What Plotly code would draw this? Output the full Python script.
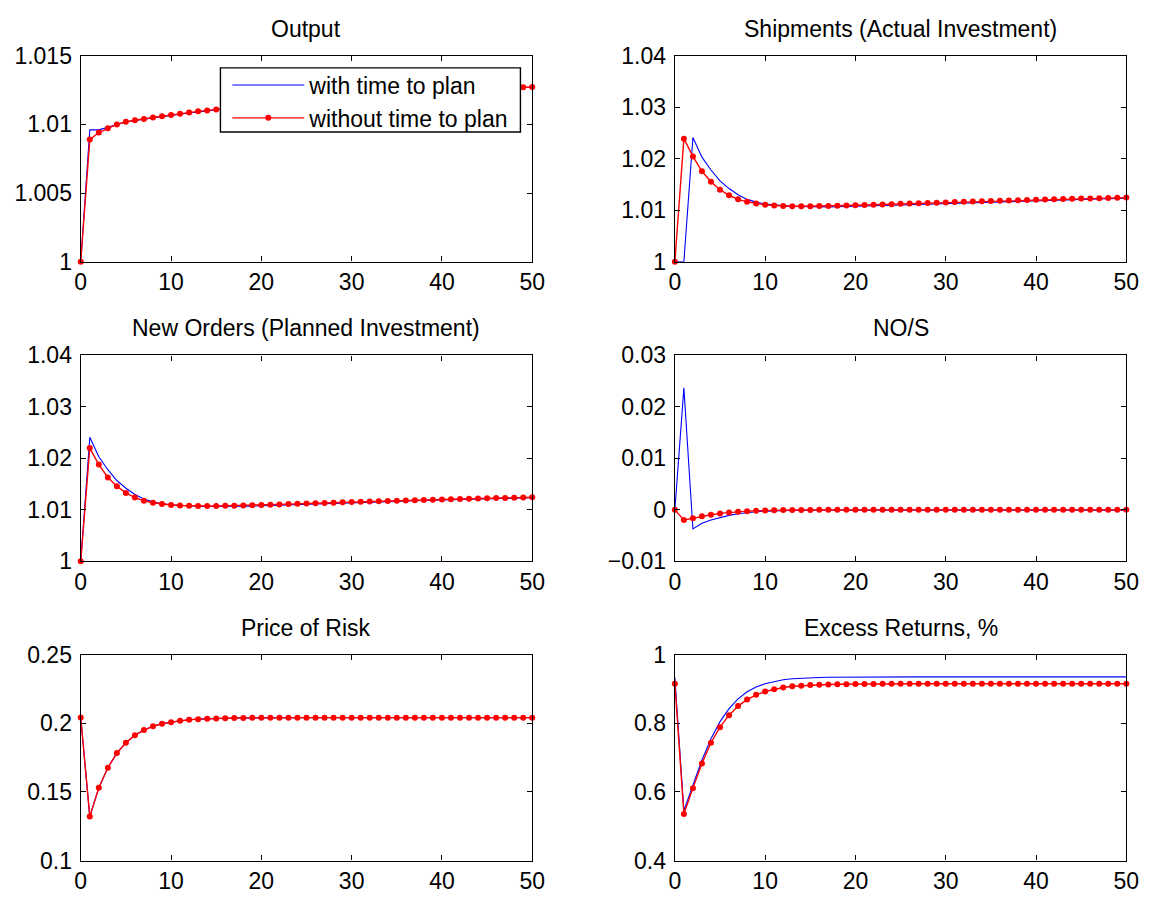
import plotly.graph_objects as go

# ---------------- data ----------------
periods = list(range(51))

x_tickvals = [0, 10, 20, 30, 40, 50]
x_ticktext = ["0", "10", "20", "30", "40", "50"]

titles = ["Output", "Shipments (Actual Investment)", "New Orders (Planned Investment)",
          "NO/S", "Price of Risk", "Excess Returns, %"]

series_names = ["with time to plan", "without time to plan"]

output_ttp = [1.0, 1.0096, 1.0096, 1.00978, 1.01000, 1.01017, 1.01029, 1.01039, 1.01048, 1.01057,
              1.01066, 1.01075, 1.01083, 1.01091, 1.01098, 1.01105, 1.01112, 1.01120, 1.01127, 1.01134,
              1.01141, 1.01148, 1.01154, 1.01160, 1.01167, 1.01173, 1.01178, 1.01184, 1.01190, 1.01195,
              1.01200, 1.01205, 1.01210, 1.01215, 1.01219, 1.01224, 1.01228, 1.01232, 1.01236, 1.01240,
              1.01243, 1.01247, 1.01250, 1.01253, 1.01256, 1.01259, 1.01261, 1.01264, 1.01266, 1.01268,
              1.01270]
output_nottp = [1.0, 1.00889, 1.00941, 1.00972, 1.01000, 1.01019, 1.01031, 1.01040, 1.01050, 1.01059,
                1.01069, 1.01078, 1.01087, 1.01095, 1.01102, 1.01109, 1.011165, 1.011238, 1.01131, 1.01138,
                1.011448, 1.011515, 1.01158, 1.011643, 1.011705, 1.011765, 1.011823, 1.01188, 1.011935, 1.011988,
                1.01204, 1.01209, 1.012138, 1.012185, 1.01223, 1.012273, 1.012315, 1.012355, 1.012393, 1.01243,
                1.012465, 1.012498, 1.01253, 1.01256, 1.012588, 1.012615, 1.01264, 1.012663, 1.012685, 1.012705,
                1.012725]

shipments_ttp = [1.0, 1.0, 1.0241, 1.0203, 1.0178, 1.0157, 1.0142, 1.0130, 1.0121, 1.01157,
                 1.0112, 1.0110, 1.01088, 1.01075, 1.0107, 1.01066, 1.01064, 1.01064, 1.01066, 1.01069,
                 1.01073, 1.01078, 1.01083, 1.01089, 1.01095, 1.01101, 1.01107, 1.01113, 1.01119, 1.01125,
                 1.01131, 1.01137, 1.01143, 1.01149, 1.01154, 1.01160, 1.01165, 1.01171, 1.01176, 1.01181,
                 1.01186, 1.01191, 1.01196, 1.01201, 1.01206, 1.01210, 1.01215, 1.01219, 1.01224, 1.01228,
                 1.01232]
shipments_nottp = [1.0, 1.0239, 1.02044, 1.01756, 1.01554, 1.01399, 1.0129, 1.01211, 1.01163, 1.0113,
                   1.01105, 1.01092, 1.01082, 1.01078, 1.01077, 1.01077, 1.01079, 1.01082, 1.01086, 1.01091,
                   1.01096, 1.01101, 1.01106, 1.01112, 1.01117, 1.01123, 1.01129, 1.01134, 1.0114, 1.01146,
                   1.01151, 1.01157, 1.01162, 1.01167, 1.01173, 1.01178, 1.01183, 1.01188, 1.01193, 1.01198,
                   1.01203, 1.01207, 1.01212, 1.01216, 1.01221, 1.01225, 1.01229, 1.01233, 1.01237, 1.01241,
                   1.01245]

orders_ttp = [1.0, 1.0241, 1.0203, 1.0178, 1.0157, 1.0142, 1.0130, 1.0121, 1.01157, 1.0112,
              1.0110, 1.01088, 1.01075, 1.0107, 1.01066, 1.01064, 1.01064, 1.01066, 1.01069, 1.01073,
              1.01078, 1.01083, 1.01089, 1.01095, 1.01101, 1.01107, 1.01113, 1.01119, 1.01125, 1.01131,
              1.01137, 1.01143, 1.01149, 1.01154, 1.01160, 1.01165, 1.01171, 1.01176, 1.01181, 1.01186,
              1.01191, 1.01196, 1.01201, 1.01206, 1.01210, 1.01215, 1.01219, 1.01224, 1.01228, 1.01232,
              1.01236]
orders_nottp = [1.0, 1.0220, 1.0188, 1.0163, 1.0146, 1.0133, 1.0124, 1.01176, 1.01138, 1.01113,
                1.01094, 1.01085, 1.01078, 1.01075, 1.01075, 1.01076, 1.01079, 1.01082, 1.01086, 1.01091,
                1.01096, 1.01101, 1.01106, 1.01112, 1.01117, 1.01123, 1.01129, 1.01134, 1.0114, 1.01146,
                1.01151, 1.01157, 1.01162, 1.01167, 1.01173, 1.01178, 1.01183, 1.01188, 1.01193, 1.01198,
                1.01203, 1.01207, 1.01212, 1.01216, 1.01221, 1.01225, 1.01229, 1.01233, 1.01237, 1.01241,
                1.01245]

nos_ttp = [0.0, 0.0237, -0.0037, -0.0026, -0.00195, -0.00145, -0.00107, -0.00075, -0.00052, -0.00037,
           -0.00026, -0.00018, -0.00013, -0.00009, -0.00007, -0.00006, -0.00005, -0.00005, -0.00005, -0.00005,
           -0.00005, -0.00005, -0.00005, -0.00005, -0.00005, -0.00005, -0.00005, -0.00005, -0.00005, -0.00005,
           -0.00005, -0.00005, -0.00005, -0.00005, -0.00005, -0.00005, -0.00005, -0.00005, -0.00005, -0.00005,
           -0.00005, -0.00005, -0.00005, -0.00005, -0.00005, -0.00005, -0.00005, -0.00005, -0.00005, -0.00005,
           -0.00005]
nos_nottp = [0.0, -0.00195, -0.00164, -0.00126, -0.00094, -0.00069, -0.0005, -0.00035, -0.00025, -0.00017,
             -0.00011, -0.00007, -0.00004, -0.00003, -0.00002, -0.00001, 0.0, 0.0, 0.0, 0.0,
             0.0, 0.0, 0.0, 0.0, 0.0, 0.0, 0.0, 0.0, 0.0, 0.0,
             0.0, 0.0, 0.0, 0.0, 0.0, 0.0, 0.0, 0.0, 0.0, 0.0,
             0.0, 0.0, 0.0, 0.0, 0.0, 0.0, 0.0, 0.0, 0.0, 0.0,
             0.0]

risk_ttp = [0.2042, 0.1320, 0.1530, 0.1676, 0.1783, 0.1858, 0.1913, 0.1950, 0.1978, 0.1996,
            0.2008, 0.2018, 0.2025, 0.2030, 0.2033, 0.2035, 0.2037, 0.2038, 0.2039, 0.2040,
            0.2040, 0.2041, 0.2041, 0.2041, 0.2041, 0.2041, 0.2041, 0.2041, 0.2041, 0.2041,
            0.2041, 0.2041, 0.2041, 0.2041, 0.2041, 0.2041, 0.2041, 0.2041, 0.2041, 0.2041,
            0.2041, 0.2041, 0.2041, 0.2041, 0.2041, 0.2041, 0.2041, 0.2041, 0.2041, 0.2041,
            0.2041]
risk_nottp = [0.2042, 0.1320, 0.1530, 0.1676, 0.1783, 0.1858, 0.1913, 0.1950, 0.1978, 0.1996,
              0.2008, 0.2018, 0.2025, 0.2030, 0.2033, 0.2035, 0.2037, 0.2038, 0.2039, 0.2040,
              0.2040, 0.2041, 0.2041, 0.2041, 0.2041, 0.2041, 0.2041, 0.2041, 0.2041, 0.2041,
              0.2041, 0.2041, 0.2041, 0.2041, 0.2041, 0.2041, 0.2041, 0.2041, 0.2041, 0.2041,
              0.2041, 0.2041, 0.2041, 0.2041, 0.2041, 0.2041, 0.2041, 0.2041, 0.2041, 0.2041,
              0.2041]

excess_ttp = [0.933, 0.546, 0.6195, 0.693, 0.7546, 0.8047, 0.8425, 0.871, 0.8917, 0.9059,
              0.9153, 0.922, 0.9267, 0.9295, 0.9314, 0.9326, 0.9334, 0.9339, 0.9342, 0.9344,
              0.9346, 0.9347, 0.9348, 0.9349, 0.9349, 0.935, 0.935, 0.935, 0.935, 0.935,
              0.935, 0.935, 0.935, 0.935, 0.935, 0.935, 0.935, 0.935, 0.935, 0.935,
              0.935, 0.935, 0.935, 0.935, 0.935, 0.935, 0.935, 0.935, 0.935, 0.935,
              0.935]
excess_nottp = [0.9153, 0.5354, 0.611, 0.6828, 0.7433, 0.7887, 0.8236, 0.850, 0.869, 0.883,
                0.8926, 0.899, 0.904, 0.9078, 0.9096, 0.9115, 0.9125, 0.9131, 0.9136, 0.9140,
                0.9143, 0.9145, 0.9147, 0.9148, 0.9149, 0.9150, 0.9151, 0.9151, 0.9151, 0.9152,
                0.9152, 0.9152, 0.9152, 0.9152, 0.9152, 0.9152, 0.9152, 0.9152, 0.9152, 0.9152,
                0.9152, 0.9152, 0.9152, 0.9152, 0.9152, 0.9152, 0.9152, 0.9152, 0.9152, 0.9152,
                0.9153]

y_ranges = [[1.0, 1.015], [1.0, 1.04], [1.0, 1.04], [-0.01, 0.03], [0.1, 0.25], [0.4, 1.0]]
y_tickvals = [[1.0, 1.005, 1.01, 1.015],
              [1.0, 1.01, 1.02, 1.03, 1.04],
              [1.0, 1.01, 1.02, 1.03, 1.04],
              [-0.01, 0.0, 0.01, 0.02, 0.03],
              [0.1, 0.15, 0.2, 0.25],
              [0.4, 0.6, 0.8, 1.0]]
y_ticktext = [["1", "1.005", "1.01", "1.015"],
              ["1", "1.01", "1.02", "1.03", "1.04"],
              ["1", "1.01", "1.02", "1.03", "1.04"],
              ["\u22120.01", "0", "0.01", "0.02", "0.03"],
              ["0.1", "0.15", "0.2", "0.25"],
              ["0.4", "0.6", "0.8", "1"]]

panels_ttp = [output_ttp, shipments_ttp, orders_ttp, nos_ttp, risk_ttp, excess_ttp]
panels_nottp = [output_nottp, shipments_nottp, orders_nottp, nos_nottp, risk_nottp, excess_nottp]

# ---------------- layout geometry (pixels) ----------------
W, H = 1159, 909
col_px = [(76, 535), (680, 1139)]
row_px = [(44, 256), (352.5, 564.5), (660.5, 872.5)]

FONT = "Liberation Sans, Arial, Helvetica, sans-serif"
FS = 23

fig = go.Figure()
layout = dict(width=W, height=H, margin=dict(l=0, r=0, t=0, b=0),
              paper_bgcolor="white", plot_bgcolor="white",
              font=dict(family=FONT, size=FS, color="black"))
annotations = []

for i in range(6):
    r, c = divmod(i, 2)
    x0, x1 = col_px[c]
    top, bot = row_px[r]
    xd = [x0 / W, x1 / W]
    yd = [(H - bot) / H, (H - top) / H]
    n = i + 1
    xa = "x" if n == 1 else f"x{n}"
    ya = "y" if n == 1 else f"y{n}"
    axis_common = dict(showline=True, linecolor="black", linewidth=1.4, mirror="ticks",
                       ticks="inside", ticklen=5, tickwidth=1, tickcolor="black",
                       showgrid=False, zeroline=False,
                       tickfont=dict(family=FONT, size=FS, color="black"))
    layout["xaxis" if n == 1 else f"xaxis{n}"] = dict(
        domain=xd, anchor=ya, range=[0, 50], tickvals=x_tickvals, ticktext=x_ticktext, **axis_common)
    layout["yaxis" if n == 1 else f"yaxis{n}"] = dict(
        domain=yd, anchor=xa, range=y_ranges[i], tickvals=y_tickvals[i], ticktext=y_ticktext[i],
        ticklabelstandoff=3, **axis_common)

    fig.add_trace(go.Scatter(x=periods, y=panels_ttp[i], mode="lines", name=series_names[0],
                             line=dict(color="#0000ff", width=1.1), xaxis=xa, yaxis=ya,
                             showlegend=(i == 0), legendrank=1))
    fig.add_trace(go.Scatter(x=periods, y=panels_nottp[i], mode="lines+markers", name=series_names[1],
                             line=dict(color="#ff0000", width=1.4),
                             marker=dict(color="#ff0000", size=6, symbol="circle"),
                             xaxis=xa, yaxis=ya, showlegend=(i == 0), legendrank=2,
                             cliponaxis=False))

    annotations.append(dict(text=titles[i], x=(x0 + x1) / 2 / W, y=(H - top) / H,
                            xref="paper", yref="paper", xanchor="center", yanchor="middle",
                            yshift=27, showarrow=False,
                            font=dict(family=FONT, size=FS, color="black")))

layout["annotations"] = annotations
# legend frame (white box covering the curves), drawn as a shape; legend entries sit on top
layout["shapes"] = [dict(type="rect", xref="paper", yref="paper", layer="above",
                         x0=218 / W, x1=523 / W, y0=(H - 122.5) / H, y1=(H - 56.5) / H,
                         fillcolor="white", line=dict(color="black", width=1.4))]
layout["legend"] = dict(x=225 / W, y=(H - 52) / H, xanchor="left", yanchor="top",
                        bgcolor="rgba(0,0,0,0)", borderwidth=0,
                        font=dict(family=FONT, size=FS, color="black"),
                        itemwidth=72, tracegroupgap=0)
fig.update_layout(**layout)

fig.write_html("out.html")
